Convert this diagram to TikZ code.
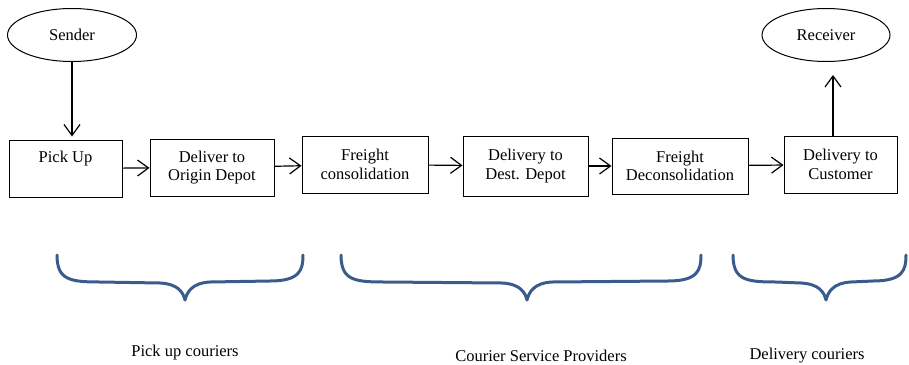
\documentclass[tikz,border=0pt]{standalone}
\usepackage{fontspec}
\setmainfont{Liberation Serif}
\usetikzlibrary{arrows.meta,shapes.geometric}
\definecolor{bracecol}{HTML}{3A5C8C}
\newcommand\mybrace[3]{%
  \draw[bracestyle] ({#1},255) .. controls ({#1},280) and ({#1+13},282) .. ({#1+43},282)
    -- ({#2-25},283) .. controls ({#2-7},284) and ({#2-2},292) .. ({#2},300)
    .. controls ({#2+2},292) and ({#2+7},283) .. ({#2+25},282)
    -- ({#3-33},281) .. controls ({#3-3},281) and ({#3},270) .. ({#3},255);}
\begin{document}
\begin{tikzpicture}[x=1pt,y=-1pt,
  every node/.style={font=\fontsize{16.5}{18.5}\selectfont, inner sep=0pt},
  box/.style={draw, line width=1pt, align=center},
  oval/.style={draw, ellipse, line width=1pt, align=center},
  conn/.style={line width=1.2pt, -{Straight Barb[length=11pt,width=16pt,line width=1.2pt]}},
  bracestyle/.style={draw=bracecol, line width=3pt, line cap=round, line join=round},
  lbl/.style={}]
\useasboundingbox (0,0) rectangle (909,364);
\node[oval, minimum width=129pt, minimum height=53pt] (sender) at (72,35) {Sender};
\node[oval, minimum width=128pt, minimum height=53pt] (receiver) at (826,35) {Receiver};
\node[box, minimum width=113pt, minimum height=57pt] (pick) at (65.5,168.5) {Pick Up\\\strut};
\node[box, minimum width=124pt, minimum height=57pt] (origin) at (212,167.5) {Deliver to\\Origin Depot};
\node[box, minimum width=126pt, minimum height=57pt] (cons) at (365,164.5) {Freight\\consolidation};
\node[box, minimum width=125pt, minimum height=60pt] (dest) at (525.5,166) {Delivery to\\Dest. Depot};
\node[box, minimum width=136pt, minimum height=56pt] (decons) at (680,166) {Freight\\Deconsolidation};
\node[box, minimum width=113pt, minimum height=57pt] (cust) at (840.5,164.5) {Delivery to\\Customer};
\coordinate (s1) at ([xshift=0pt]sender.south);
\draw[conn, shorten >=3pt] (s1) -- (s1 |- pick.north);
\draw[conn] (pick) -- (origin);
\draw[conn] (origin) -- (cons);
\draw[conn] (cons) -- (dest);
\draw[conn] (dest) -- (decons);
\draw[conn] (decons) -- (cust);
\coordinate (c1) at ([xshift=-7.5pt]cust.north);
\draw[conn, shorten >=13pt] (c1) -- (c1 |- receiver.south);
\mybrace{57}{185}{303}
\mybrace{341}{527}{701}
\mybrace{733}{826}{906}
\node[lbl] (l1) at (185,353) {Pick up couriers};
\node[lbl] (l2) at (541,356) {Courier Service Providers};
\node[lbl] (l3) at (807,356) {Delivery couriers};
\end{tikzpicture}
\end{document}
